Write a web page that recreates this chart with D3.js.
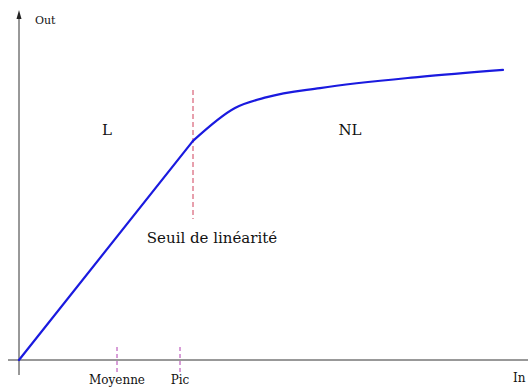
<!DOCTYPE html>
<html><head><meta charset="utf-8">
<script src="https://cdn.jsdelivr.net/npm/d3@7"></script>
<style>body{margin:0;background:#fff}svg{display:block}</style>
</head><body><svg id="c" width="528" height="387"></svg>
<script>
// Data (In, Out) in arbitrary units
const curveIn  = [0, 34.8, 43.2, 49.6, 60.2, 80.2, 96.8];
const curveOut = [0, 62.6, 72.0, 75.1, 77.7, 80.9, 82.9];
const kinkIndex = 1;
const markerNames = ["Moyenne", "Pic"];
const markerIn = [19.6, 32.2];
const seuilIn = 34.8;
const regionLabels = ["L", "NL"];
const regionIn = [17.6, 66.2];
const regionOut = [64.3, 64.3];

const FONT = "'DejaVu Serif', 'Liberation Serif', 'Times New Roman', serif";
const svg = d3.select("#c");
const x = d3.scaleLinear().domain([0, 100]).range([19, 519]);
const y = d3.scaleLinear().domain([0, 100]).range([360, 10]);

function txt(xp, yp, size, s, anchor) {
  return svg.append("text").attr("x", xp).attr("y", yp).attr("font-size", size)
    .attr("font-family", FONT).attr("fill", "#111").attr("text-anchor", anchor || "start").text(s);
}

// axes
svg.append("line").attr("x1", 8).attr("x2", 528).attr("y1", y(0)).attr("y2", y(0)).attr("stroke", "#333").attr("stroke-width", 1);
svg.append("line").attr("x1", x(0)).attr("x2", x(0)).attr("y1", 375).attr("y2", 14).attr("stroke", "#333").attr("stroke-width", 1);
svg.append("path").attr("d", `M${x(0)},10 L${x(0)-2.5},19 L${x(0)+2.5},19 Z`).attr("fill", "#222");
txt(35, 24, 11, "Out");
txt(513, 382, 12, "In");

// marker ticks
markerIn.forEach((v, i) => {
  svg.append("line").attr("x1", x(v)).attr("x2", x(v)).attr("y1", 347).attr("y2", 372)
    .attr("stroke", "#b03cb0").attr("stroke-width", 1).attr("stroke-dasharray", "4,3");
  txt(x(v), 384, 12, markerNames[i], "middle");
});

// seuil dashed line
svg.append("line").attr("x1", x(seuilIn)).attr("x2", x(seuilIn)).attr("y1", 90).attr("y2", 219)
  .attr("stroke", "#d0405a").attr("stroke-width", 1).attr("stroke-dasharray", "5,3");
txt(212, 243, 15, "Seuil de linéarité", "middle");

// region labels
regionLabels.forEach((t, i) => txt(x(regionIn[i]), y(regionOut[i]), 15, t, "middle"));

// curve: linear part then smooth saturation part
const pts = curveIn.map((v, i) => [v, curveOut[i]]);
const g = svg.append("g").attr("fill", "none").attr("stroke", "#1a1adf").attr("stroke-width", 2.2).attr("stroke-linejoin", "round").attr("stroke-linecap", "round");
g.append("path").datum(pts.slice(0, kinkIndex + 1))
  .attr("d", d3.line().x(d => x(d[0])).y(d => y(d[1])));
g.append("path").datum(pts.slice(kinkIndex))
  .attr("d", d3.line().x(d => x(d[0])).y(d => y(d[1])).curve(d3.curveMonotoneX));
</script></body></html>
